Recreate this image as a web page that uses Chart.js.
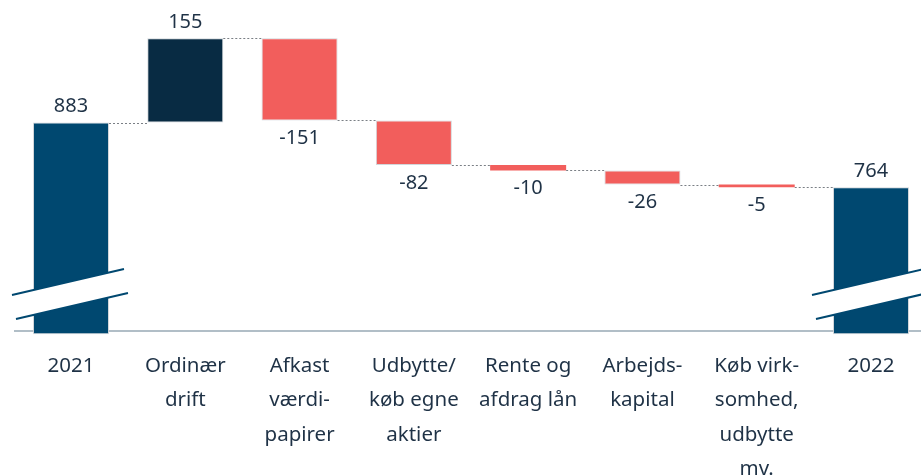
<!DOCTYPE html>
<html>
<head>
<meta charset="utf-8">
<script src="https://cdn.jsdelivr.net/npm/chart.js@4.4.0/dist/chart.umd.min.js"></script>
<style>
  html, body { margin: 0; padding: 0; background: #ffffff; overflow: hidden; }
  #wrap { width: 921px; height: 475px; position: relative; }
</style>
</head>
<body>
<div id="wrap"><canvas id="c" width="921" height="475"></canvas></div>
<script>
// ---- data ----
const categories = [
  ['2021'],
  ['Ordinær', 'drift'],
  ['Afkast', 'værdi-', 'papirer'],
  ['Udbytte/', 'køb egne', 'aktier'],
  ['Rente og', 'afdrag lån'],
  ['Arbejds-', 'kapital'],
  ['Køb virk-', 'somhed,', 'udbytte', 'mv.'],
  ['2022']
];
const startValue = 883;
const changes = [155, -151, -82, -10, -26, -5];
const endValue = 764;
const valueLabels = ['883', '155', '-151', '-82', '-10', '-26', '-5', '764'];
const axisMin = 500;
const axisMax = 1100;
const barKinds = ['total', 'up', 'down', 'down', 'down', 'down', 'down', 'total'];

// ---- build floating bars ----
const totalBase = axisMin - 6; // bars poke slightly below the axis line
const ranges = [];
ranges.push([totalBase, startValue]);
let running = startValue;
changes.forEach(c => {
  ranges.push([running, running + c]);
  running += c;
});
ranges.push([totalBase, endValue]);

const colorMap = { total: '#004870', up: '#082b43', down: '#f25e5c' };
const colors = barKinds.map(k => colorMap[k]);
const textColor = '#1f3246';

const overlayPlugin = {
  id: 'overlay',
  beforeDatasetsDraw(chart) {
    const { ctx } = chart;
    const ys = chart.scales.y;
    const yAx = ys.getPixelForValue(axisMin);
    ctx.save();
    ctx.strokeStyle = '#97a8b4';
    ctx.lineWidth = 1.5;
    ctx.beginPath();
    ctx.moveTo(14, yAx);
    ctx.lineTo(chart.width, yAx);
    ctx.stroke();
    ctx.restore();
  },
  afterDatasetsDraw(chart) {
    const { ctx } = chart;
    const meta = chart.getDatasetMeta(0);
    const ys = chart.scales.y;
    const yAx = ys.getPixelForValue(axisMin);

    // connectors
    ctx.save();
    ctx.strokeStyle = '#7a7f85';
    ctx.lineWidth = 1;
    ctx.setLineDash([2, 2]);
    for (let i = 0; i < ranges.length - 1; i++) {
      const a = meta.data[i], b = meta.data[i + 1];
      const level = ranges[i][1];
      const y = Math.round(ys.getPixelForValue(level)) + 0.5;
      ctx.beginPath();
      ctx.moveTo(a.x + a.width / 2, y);
      ctx.lineTo(b.x - b.width / 2, y);
      ctx.stroke();
    }
    ctx.restore();

    // axis break marks on total bars
    [0, ranges.length - 1].forEach(i => {
      const bar = meta.data[i];
      const cx = bar.x;
      const x1 = cx - 59, x2 = cx + 53;
      const yL = yAx - 36, yR = yAx - 62, gap = 24;
      ctx.save();
      ctx.fillStyle = '#ffffff';
      ctx.beginPath();
      ctx.moveTo(x1, yL);
      ctx.lineTo(x2, yR);
      ctx.lineTo(x2 + 4, yR + gap);
      ctx.lineTo(x1 + 4, yL + gap);
      ctx.closePath();
      ctx.fill();
      ctx.strokeStyle = colorMap.total;
      ctx.lineWidth = 2;
      ctx.beginPath();
      ctx.moveTo(x1, yL); ctx.lineTo(x2, yR);
      ctx.moveTo(x1 + 4, yL + gap); ctx.lineTo(x2 + 4, yR + gap);
      ctx.stroke();
      ctx.restore();
    });

    // value labels
    ctx.save();
    ctx.fillStyle = textColor;
    ctx.font = '20px "Noto Sans"';
    ctx.textAlign = 'center';
    ctx.textBaseline = 'middle';
    meta.data.forEach((bar, i) => {
      const r = ranges[i];
      const isUp = r[1] >= r[0];
      const yTop = ys.getPixelForValue(Math.max(r[0], r[1]));
      const yBot = ys.getPixelForValue(Math.min(r[0], r[1]));
      const y = isUp ? yTop - 16 : yBot + 18;
      ctx.fillText(valueLabels[i], bar.x, y);
    });
    ctx.restore();
  }
};

new Chart(document.getElementById('c'), {
  type: 'bar',
  data: {
    labels: categories,
    datasets: [{
      data: ranges,
      backgroundColor: colors,
      borderColor: 'rgba(205,210,214,0.9)',
      borderWidth: (ctx) => {
        const r = ranges[ctx.dataIndex];
        return r && Math.abs(r[1] - r[0]) < 12 ? 0 : 1;
      },
      borderSkipped: false,
      categoryPercentage: 1,
      barPercentage: 0.665,
      clip: false
    }]
  },
  options: {
    responsive: false,
    animation: false,
    devicePixelRatio: 1,
    layout: { padding: { left: 71, right: 50, top: 4.5, bottom: 0 } },
    plugins: { legend: { display: false }, tooltip: { enabled: false } },
    scales: {
      x: {
        offset: false,
        grid: { display: false, drawTicks: false },
        border: { display: false },
        ticks: {
          color: textColor,
          padding: 18,
          maxRotation: 0,
          autoSkip: false,
          font: { family: '"Noto Sans"', size: 20.5, lineHeight: '34.3px' }
        },
        afterFit(scale) { scale.height = 144; }
      },
      y: {
        display: false,
        min: axisMin,
        max: axisMax
      }
    }
  },
  plugins: [overlayPlugin]
});
</script>
</body>
</html>
